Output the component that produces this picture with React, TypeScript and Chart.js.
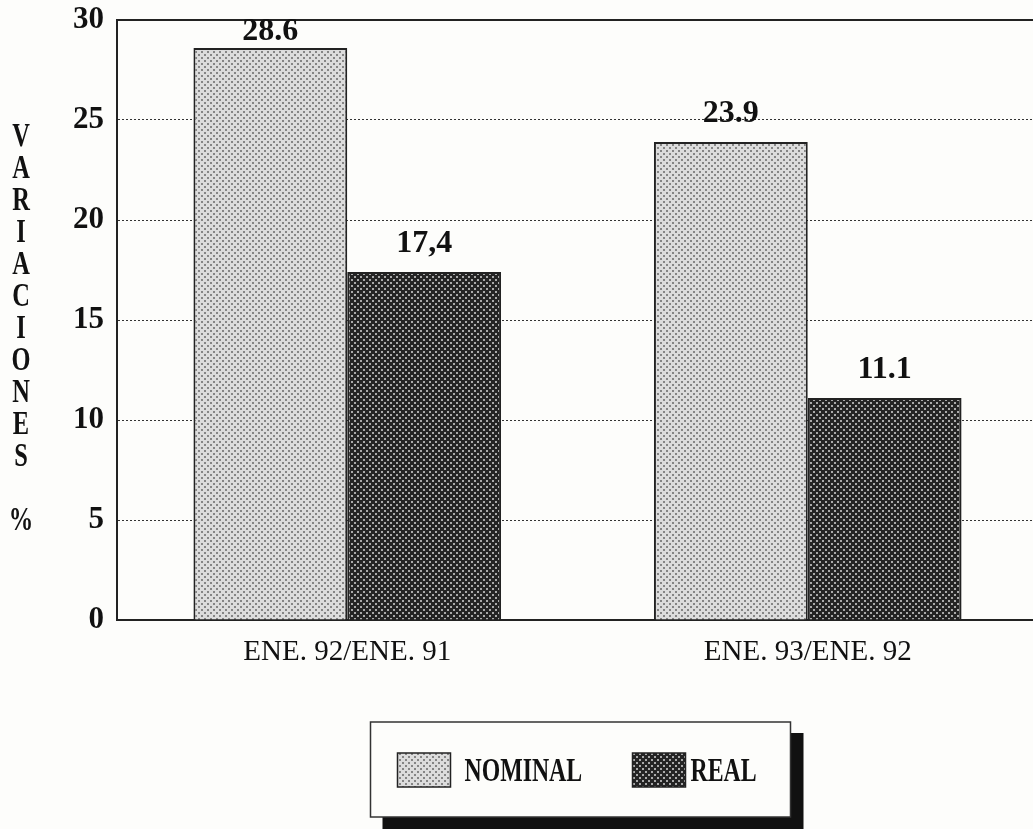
import { useEffect, useRef } from 'react';
import { Chart, registerables } from 'chart.js';

Chart.register(...registerables);

const categories = ['ENE. 92/ENE. 91', 'ENE. 93/ENE. 92'];
const seriesNames = ['NOMINAL', 'REAL'];
const nominalValues = [28.6, 23.9];
const realValues = [17.4, 11.1];
const nominalLabels = ['28.6', '23.9'];
const realLabels = ['17,4', '11.1'];
const yMin = 0;
const yMax = 30;
const yStep = 5;
const axisTitle = 'VARIACIONES %';

function makePattern(bg: string, dot: string, dotSize: number): CanvasPattern | string {
  const c = document.createElement('canvas');
  c.width = 6;
  c.height = 6;
  const g = c.getContext('2d');
  if (!g) return bg;
  g.fillStyle = bg;
  g.fillRect(0, 0, 6, 6);
  g.fillStyle = dot;
  g.fillRect(0, 0, dotSize, dotSize);
  g.fillRect(3, 3, dotSize, dotSize);
  const p = g.createPattern(c, 'repeat');
  return p || bg;
}

const SERIF = '"Liberation Serif", "DejaVu Serif", serif';

export default function App() {
  const ref = useRef<HTMLCanvasElement | null>(null);

  useEffect(() => {
    const canvas = ref.current;
    if (!canvas) return;
    const nomPat = makePattern('#dcdcdc', '#858585', 2);
    const realPat = makePattern('#242424', '#aaaaaa', 2);
    const valueLabels = [nominalLabels, realLabels];
    const fills = [nomPat, realPat];

    const decor = {
      id: 'decor',
      afterDraw(chart: any) {
        const ctx = chart.ctx as CanvasRenderingContext2D;
        const { left, right, top, bottom } = chart.chartArea;
        ctx.save();
        // top frame line
        ctx.strokeStyle = '#222';
        ctx.lineWidth = 2;
        ctx.beginPath();
        ctx.moveTo(left - 1, top);
        ctx.lineTo(right, top);
        ctx.stroke();

        // stacked vertical title
        ctx.fillStyle = '#111';
        ctx.textAlign = 'center';
        ctx.textBaseline = 'middle';
        const letters = axisTitle.split('');
        const step = 32;
        const startY = (top + bottom) / 2 - ((letters.length - 1) * step) / 2 + 9;
        letters.forEach((ch, i) => {
          if (ch === ' ') return;
          ctx.save();
          ctx.translate(21, startY + i * step);
          ctx.scale(0.74, 1);
          ctx.font = `bold 33px ${SERIF}`;
          ctx.fillText(ch, 0, 0);
          ctx.restore();
        });

        // value labels
        ctx.font = `bold 32px ${SERIF}`;
        ctx.fillStyle = '#111';
        ctx.textAlign = 'center';
        ctx.textBaseline = 'middle';
        chart.data.datasets.forEach((_ds: any, di: number) => {
          const meta = chart.getDatasetMeta(di);
          meta.data.forEach((el: any, i: number) => {
            const y = Math.max(el.y - 28, top + 12);
            ctx.fillText(valueLabels[di][i], el.x, y);
          });
        });

        // legend box
        const cx = (left + right) / 2 + 3;
        const bx = cx - 210;
        const by = bottom + 102;
        const bw = 420;
        const bh = 95;
        ctx.fillStyle = '#111';
        ctx.fillRect(bx + 12, by + 11, bw + 1, bh + 20);
        ctx.fillStyle = '#fdfdfb';
        ctx.fillRect(bx, by, bw, bh);
        ctx.strokeStyle = '#333';
        ctx.lineWidth = 1.5;
        ctx.strokeRect(bx, by, bw, bh);

        const swatchX = [bx + 27, bx + 262];
        const textX = [bx + 94, bx + 320];
        seriesNames.forEach((name, i) => {
          ctx.fillStyle = fills[i] as any;
          ctx.fillRect(swatchX[i], by + 31, 53, 34);
          ctx.strokeStyle = '#222';
          ctx.lineWidth = 1.5;
          ctx.strokeRect(swatchX[i], by + 31, 53, 34);
          ctx.save();
          ctx.fillStyle = '#111';
          ctx.textAlign = 'left';
          ctx.textBaseline = 'middle';
          ctx.translate(textX[i], by + 50);
          ctx.scale(0.7, 1);
          ctx.font = `bold 34px ${SERIF}`;
          ctx.fillText(name, 0, 0);
          ctx.restore();
        });
        ctx.restore();
      },
    };

    const chart = new Chart(canvas, {
      type: 'bar',
      data: {
        labels: categories,
        datasets: [
          {
            label: seriesNames[0],
            data: nominalValues,
            backgroundColor: nomPat as any,
            borderColor: '#222',
            borderWidth: 2,
            categoryPercentage: 0.668,
            barPercentage: 1,
          },
          {
            label: seriesNames[1],
            data: realValues,
            backgroundColor: realPat as any,
            borderColor: '#222',
            borderWidth: 2,
            categoryPercentage: 0.668,
            barPercentage: 1,
          },
        ],
      },
      options: {
        animation: false,
        responsive: false,
        maintainAspectRatio: false,
        layout: { padding: { top: 20, right: 0, bottom: 0, left: 0 } },
        plugins: {
          legend: { display: false },
          tooltip: { enabled: false },
          title: { display: false },
        },
        scales: {
          x: {
            grid: { display: false, drawTicks: false },
            border: { display: true, color: '#222', width: 2 },
            ticks: {
              color: '#111',
              padding: 15,
              font: { family: SERIF, size: 29 },
            },
            afterFit: (s: any) => {
              s.height = 209;
            },
          },
          y: {
            min: yMin,
            max: yMax,
            ticks: {
              stepSize: yStep,
              padding: 13,
              color: '#111',
              font: { family: SERIF, size: 31, weight: 'bold' },
            },
            grid: {
              drawTicks: false,
              lineWidth: 1,
              color: (c: any) =>
                c.tick && (c.tick.value === yMax || c.tick.value === yMin) ? 'rgba(0,0,0,0)' : '#333',
            },
            border: { display: true, color: '#222', width: 2, dash: [2, 2] },
            afterFit: (s: any) => {
              s.width = 117;
              s.paddingTop = 0;
              s.paddingBottom = 0;
            },
          },
        },
      } as any,
      plugins: [decor],
    });
    return () => chart.destroy();
  }, []);

  return (
    <div
      style={{
        position: 'fixed',
        left: 0,
        top: 0,
        width: 1033,
        height: 829,
        overflow: 'hidden',
        background: '#fdfdfb',
      }}
    >
      <canvas ref={ref} width={1038} height={829} style={{ display: 'block' }} />
    </div>
  );
}
